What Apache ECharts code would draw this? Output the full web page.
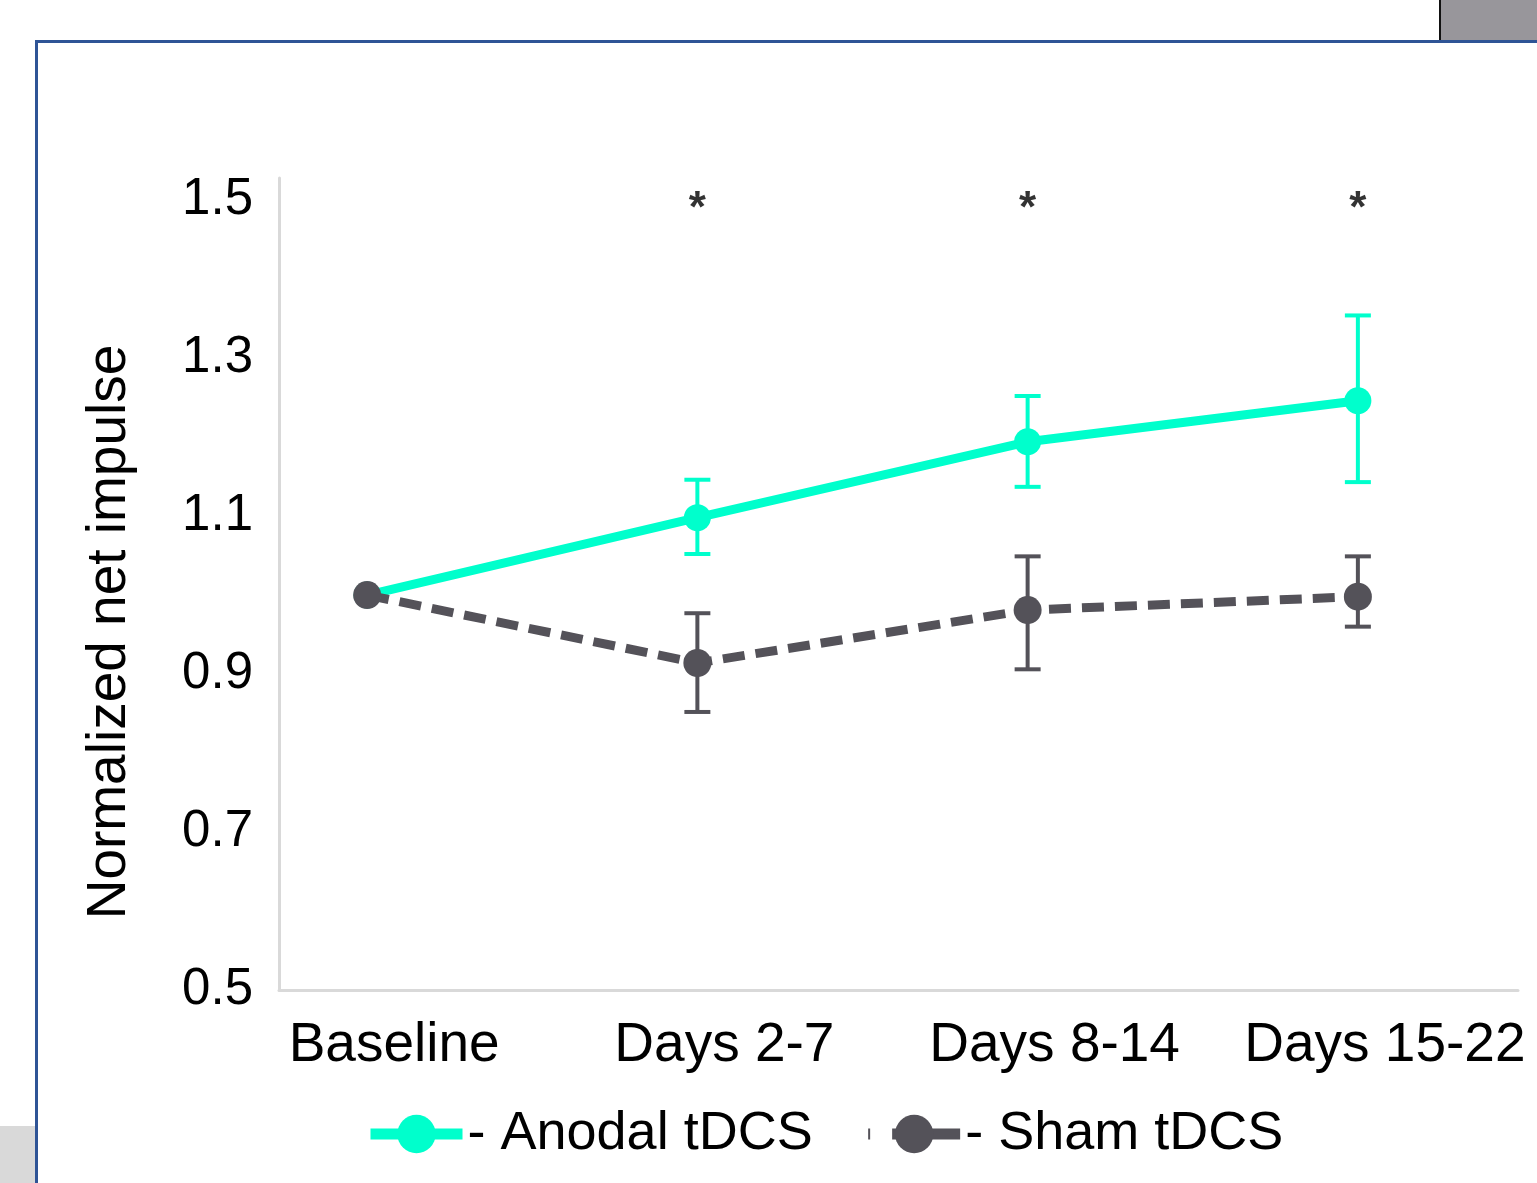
<!DOCTYPE html>
<html>
<head>
<meta charset="utf-8">
<script src="https://cdn.jsdelivr.net/npm/echarts@6/dist/echarts.min.js"></script>
<style>
html,body{margin:0;padding:0;background:#fff;}
#chart{width:1537px;height:1183px;}
</style>
</head>
<body>
<div id="chart"></div>
<script>
// ---- data ----
var categories = ['Baseline', 'Days 2-7', 'Days 8-14', 'Days 15-22'];
var anodalMean = [1.0, 1.098, 1.194, 1.246];
var anodalLow  = [1.0, 1.052, 1.137, 1.143];
var anodalHigh = [1.0, 1.146, 1.252, 1.354];
var shamMean = [1.0, 0.914, 0.981, 0.998];
var shamLow  = [1.0, 0.852, 0.906, 0.960];
var shamHigh = [1.0, 0.977, 1.049, 1.049];
var significance = ['', '*', '*', '*'];
var sigLevel = 1.5;
var yTickLabels = ['0.5', '0.7', '0.9', '1.1', '1.3', '1.5'];
var seriesNames = ['Anodal tDCS', 'Sham tDCS'];

var FONT = 'Liberation Sans, Arial, sans-serif';
var ANODAL = '#00FFCC';
var SHAM = '#545259';
var Y_MIN = 0.5, Y_MAX = 1.528;

function errData(low, high) {
  var out = [];
  for (var i = 0; i < low.length; i++) {
    if (high[i] !== low[i]) out.push([i, low[i], high[i]]);
  }
  return out;
}
function errRender(color) {
  return function (params, api) {
    var x = api.value(0);
    var lo = api.coord([x, api.value(1)]);
    var hi = api.coord([x, api.value(2)]);
    var hw = 13;
    var st = { stroke: color, lineWidth: 4 };
    return {
      type: 'group',
      children: [
        { type: 'line', shape: { x1: lo[0], y1: lo[1], x2: hi[0], y2: hi[1] }, style: st },
        { type: 'line', shape: { x1: lo[0] - hw, y1: lo[1], x2: lo[0] + hw, y2: lo[1] }, style: st },
        { type: 'line', shape: { x1: hi[0] - hw, y1: hi[1], x2: hi[0] + hw, y2: hi[1] }, style: st }
      ]
    };
  };
}
var sigData = [];
for (var i = 0; i < significance.length; i++) {
  if (significance[i]) sigData.push({ value: [i, sigLevel], mark: significance[i] });
}

var chart = echarts.init(document.getElementById('chart'), null, { renderer: 'canvas' });
var option = {
  backgroundColor: '#fff',
  animation: false,
  textStyle: { fontFamily: FONT },
  grid: [
    { left: 202, top: 178, width: 1321, height: 812 },
    { left: 279, top: 178, width: 1239, height: 812 }
  ],
  xAxis: [
    {
      gridIndex: 0, type: 'category', data: categories, boundaryGap: true,
      axisLine: { show: false }, axisTick: { show: false }, splitLine: { show: false },
      axisLabel: { interval: 0, hideOverlap: false, fontSize: 55, color: '#000', fontFamily: FONT, margin: 28, padding: [0, 0, 0, 54] }
    },
    {
      gridIndex: 1, type: 'value', min: 0, max: 1,
      axisLine: { show: true, onZero: false, lineStyle: { color: '#D9D9D9', width: 3 } },
      axisTick: { show: false }, axisLabel: { show: false }, splitLine: { show: false }
    }
  ],
  yAxis: [
    { gridIndex: 0, type: 'value', min: Y_MIN, max: Y_MAX, show: false, splitLine: { show: false } },
    {
      gridIndex: 1, type: 'value', min: Y_MIN, max: Y_MAX, interval: 0.1,
      axisLine: { show: true, onZero: false, lineStyle: { color: '#D9D9D9', width: 3 } },
      axisTick: { show: false }, splitLine: { show: false },
      axisLabel: {
        fontSize: 51, color: '#000', fontFamily: FONT, margin: 26,
        formatter: function (v) {
          for (var k = 0; k < yTickLabels.length; k++) {
            if (Math.abs(v - parseFloat(yTickLabels[k])) < 1e-6) return yTickLabels[k];
          }
          return '';
        }
      }
    }
  ],
  legend: {
    data: [
      { name: seriesNames[0], lineStyle: { width: 11 } },
      { name: seriesNames[1], lineStyle: { width: 11, type: [2, 22, 70, 0] } }
    ],
    left: 360, top: 1102,
    itemWidth: 92, itemHeight: 48, itemGap: 50,
    formatter: function (n) { return '- ' + n; },
    textStyle: { fontSize: 54, color: '#000', fontFamily: FONT }
  },
  series: [
    {
      name: seriesNames[0], type: 'line', xAxisIndex: 0, yAxisIndex: 0,
      data: anodalMean, symbol: 'circle', symbolSize: 27, z: 3,
      lineStyle: { color: ANODAL, width: 9 }, itemStyle: { color: ANODAL }
    },
    {
      name: seriesNames[1], type: 'line', xAxisIndex: 0, yAxisIndex: 0,
      data: shamMean, symbol: 'circle', symbolSize: 28, z: 3,
      lineStyle: { color: SHAM, width: 9, type: [22, 11] }, itemStyle: { color: SHAM }
    },
    {
      type: 'custom', xAxisIndex: 0, yAxisIndex: 0, z: 2,
      renderItem: errRender(ANODAL), data: errData(anodalLow, anodalHigh)
    },
    {
      type: 'custom', xAxisIndex: 0, yAxisIndex: 0, z: 2,
      renderItem: errRender(SHAM), data: errData(shamLow, shamHigh)
    },
    {
      type: 'scatter', xAxisIndex: 0, yAxisIndex: 0, symbolSize: 0, silent: true,
      data: sigData,
      label: {
        show: true, position: 'inside', fontSize: 44, fontWeight: 'bold', color: '#000', fontFamily: FONT,
        offset: [0, 10],
        formatter: function (p) { return p.data.mark; }
      }
    }
  ],
  graphic: [
    {
      type: 'text', x: 110, y: 632, rotation: Math.PI / 2,
      style: { text: 'Normalized net impulse', fontSize: 55, fontFamily: FONT, fill: '#000', align: 'center', verticalAlign: 'middle' }
    },
    { type: 'rect', shape: { x: 1441, y: 0, width: 96, height: 41 }, style: { fill: '#98969B' } },
    { type: 'line', shape: { x1: 1440, y1: 0, x2: 1440, y2: 41 }, style: { stroke: '#111', lineWidth: 2 } },
    { type: 'rect', shape: { x: 0, y: 1126, width: 35, height: 57 }, style: { fill: '#D9D9D9' } },
    { type: 'line', shape: { x1: 35, y1: 41.5, x2: 1537, y2: 41.5 }, style: { stroke: '#2F5496', lineWidth: 3 } },
    { type: 'line', shape: { x1: 36.5, y1: 40, x2: 36.5, y2: 1183 }, style: { stroke: '#2F5496', lineWidth: 3 } }
  ]
};
chart.setOption(option);
</script>
</body>
</html>
